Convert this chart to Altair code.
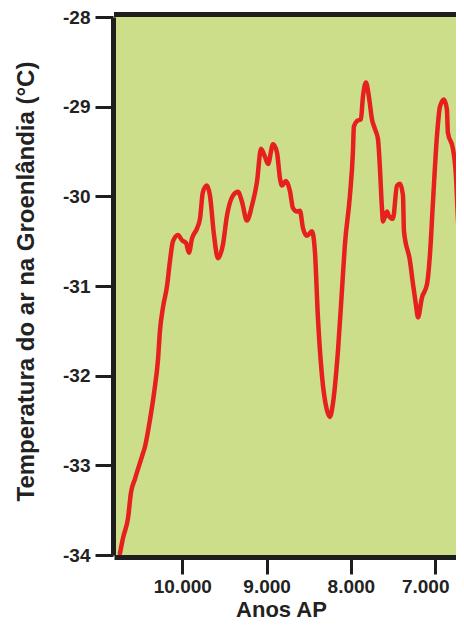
import altair as alt
import pandas as pd

# Years before present (Anos AP) and Greenland air temperature (°C)
years = [10739, 10703, 10644, 10608, 10561, 10478, 10442, 10383, 10336, 10288,
         10264, 10229, 10181, 10146, 10110, 10051, 10004, 9956, 9921, 9885,
         9826, 9790, 9755, 9707, 9672, 9624, 9577, 9518, 9469, 9398,
         9339, 9292, 9233, 9173, 9114, 9066, 9019, 8983, 8924, 8877,
         8841, 8818, 8770, 8723, 8687, 8640, 8604, 8569, 8521, 8462,
         8427, 8391, 8344, 8285, 8248, 8213, 8153, 8106, 8071, 8011,
         7976, 7964, 7928, 7881, 7857, 7821, 7786, 7750, 7714, 7679,
         7655, 7631, 7619, 7572, 7548, 7501, 7453, 7418, 7382, 7370,
         7299, 7263, 7228, 7204, 7157, 7097, 7062, 7026, 6979, 6943,
         6896, 6861, 6849, 6789, 6754, 6730, 6683, 6636]
temps = [-33.98, -33.81, -33.59, -33.30, -33.15, -32.90, -32.79, -32.49, -32.20, -31.82,
         -31.49, -31.24, -31.00, -30.72, -30.50, -30.43, -30.49, -30.52, -30.63, -30.47,
         -30.36, -30.25, -29.95, -29.88, -29.99, -30.43, -30.69, -30.54, -30.21, -29.99,
         -29.95, -30.06, -30.27, -30.10, -29.84, -29.47, -29.56, -29.64, -29.42, -29.51,
         -29.80, -29.88, -29.83, -29.94, -30.13, -30.17, -30.16, -30.35, -30.44, -30.39,
         -30.61, -31.35, -31.99, -32.38, -32.46, -32.31, -31.72, -31.05, -30.54, -29.99,
         -29.51, -29.22, -29.16, -29.14, -28.89, -28.73, -28.89, -29.14, -29.25, -29.36,
         -29.69, -30.14, -30.28, -30.17, -30.22, -30.25, -29.88, -29.86, -29.99, -30.39,
         -30.72, -30.98, -31.21, -31.35, -31.13, -30.98, -30.65, -30.06, -29.33, -29.00,
         -28.92, -29.03, -29.29, -29.47, -29.77, -30.25, -30.88, -30.96]

x_ticks = [10000, 9000, 8000, 7000]
y_ticks = [-34, -33, -32, -31, -30, -29, -28]
x_domain = [6753, 10810]
y_domain = [-34, -28]
top_edge = -28

df = pd.DataFrame({"ano": years, "temp": temps})

FONT = "Liberation Sans"
INK = "#1e1e1e"

x_scale = alt.Scale(domain=x_domain, reverse=True, nice=False, zero=False)
y_scale = alt.Scale(domain=y_domain, nice=False, zero=False)

x_axis = alt.Axis(
    title="Anos AP", values=x_ticks,
    labelExpr="replace(format(datum.value, ','), ',', '.')",
    labelOffset={"expr": "datum.value == 7000 ? -10 : 0"},
    grid=False, offset=2,
    domainColor=INK, domainWidth=5,
    tickColor=INK, tickWidth=3, tickSize=17,
    labelFont=FONT, labelFontSize=19, labelFontWeight="bold", labelColor="#222222",
    labelPadding=3, labelFlush=False,
    titleFont=FONT, titleFontSize=22, titleFontWeight="bold", titleColor="#222222",
    titleX=167, titleY=59, titleAlign="center", titleBaseline="alphabetic",
)
y_axis = alt.Axis(
    title="Temperatura do ar na Groenlândia (°C)", values=y_ticks,
    labelExpr="'' + datum.value",
    grid=False, offset=1,
    domainColor=INK, domainWidth=5,
    tickColor=INK, tickWidth=3, tickSize=18,
    labelFont=FONT, labelFontSize=19, labelFontWeight="bold", labelColor="#222222",
    labelPadding=5, labelFlush=False,
    titleFont=FONT, titleFontSize=24, titleFontWeight="bold", titleColor="#222222",
    titleX=-87, titleY=264, titleAngle=270, titleAlign="center", titleBaseline="middle",
)

line = alt.Chart(df).mark_line(
    color="#e5201f", strokeWidth=4.5, interpolate="monotone",
    strokeCap="round", strokeJoin="round", clip=True,
).encode(
    x=alt.X("ano:Q", scale=x_scale, axis=x_axis),
    y=alt.Y("temp:Q", scale=y_scale, axis=y_axis),
)

top = alt.Chart(df).mark_rule(color=INK, strokeWidth=5, yOffset=-2.5).encode(
    y=alt.datum(top_edge)
)

chart = alt.layer(line, top).properties(
    width=342, height=538,
    padding={"left": 106, "top": 9, "right": 0, "bottom": 67},
    autosize=alt.AutoSizeParams(type="none"),
).configure_view(fill="#cdde8a", stroke=None)

chart.save("out.html", embed_options={"renderer": "svg", "actions": False})
